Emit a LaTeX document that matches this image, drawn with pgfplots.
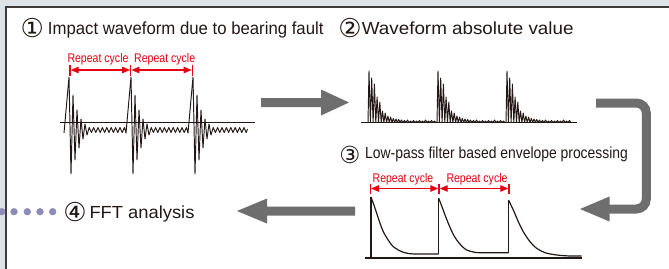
\documentclass[border=0pt]{standalone}
\usepackage{pgfplots}
\pgfplotsset{compat=1.18}
\usetikzlibrary{arrows.meta}
\usepackage{graphicx}
\usepackage{fontspec}
\setmainfont{Liberation Sans}
\newfontfamily\circfont{DejaVu Sans}
\definecolor{bg}{HTML}{DEE3E8}
\definecolor{frame}{HTML}{3C3C3C}
\definecolor{ink}{HTML}{231815}
\definecolor{arrowgray}{HTML}{6E6E6E}
\definecolor{cyred}{HTML}{E60012}
\definecolor{dotc}{HTML}{8C8BB6}
\tikzset{
  ttl/.style={anchor=base west, inner sep=0pt, text=ink, font=\fontsize{17.5bp}{21bp}\selectfont},
  ttlsmall/.style={anchor=base west, inner sep=0pt, text=ink, font=\fontsize{16bp}{19bp}\selectfont},
  cdig/.style={anchor=center, inner sep=0pt, text=ink, font=\circfont\fontsize{26bp}{28bp}\selectfont},
  cdigsmall/.style={anchor=center, inner sep=0pt, text=ink, font=\circfont\fontsize{23.5bp}{26bp}\selectfont},
  rep/.style={anchor=base, inner sep=0pt, text=cyred, font=\fontsize{12.5bp}{15bp}\selectfont},
  reparrow/.style={cyred, line width=1.1bp, {Triangle[length=8bp,width=6.5bp]}-{Triangle[length=8bp,width=6.5bp]}},
  reptick/.style={cyred, line width=1.3bp}
}
\begin{document}
\begin{tikzpicture}
\begin{axis}[hide axis, scale only axis, width=669bp, height=269bp,
  xmin=0, xmax=669, ymin=0, ymax=269, y dir=reverse, clip=true]
% background and panel
\fill[bg] (0,0) rectangle (669,269);
\fill[white] (6,7) rectangle (669,269);
\draw[frame, line width=1.3bp] (6,269) -- (6,7) -- (669,7);

% titles
\node[cdig] at (32.2,28.5) {①};
\node[ttl] at (47.7,34.3) {\resizebox{275.6bp}{\height}{Impact waveform due to bearing fault}};
\node[cdig] at (350,28.5) {②};
\node[ttl] at (361.7,34.3) {\resizebox{211.6bp}{\height}{Waveform absolute value}};
\node[cdigsmall] at (350,155) {③};
\node[ttlsmall] at (365,158.3) {\resizebox{262.7bp}{\height}{Low-pass filter based envelope processing}};
\node[cdig] at (75,212.2) {④};
\node[ttl] at (89.3,218.3) {\resizebox{105bp}{\height}{FFT analysis}};

% dots
\addplot[only marks, mark=*, mark size=3.4pt, dotc, mark options={fill=dotc, draw=dotc}]
  coordinates {(1.7,211.7)(14,211.7)(27.3,211.7)(40,211.7)(52.7,211.7)};

% gray arrows
\fill[arrowgray] (261,98) -- (321,98) -- (321,89.5) -- (349,102.5) -- (321,115.5) -- (321,107) -- (261,107) -- cycle;
\draw[arrowgray, line width=9bp, rounded corners=10bp] (596,103) -- (646.3,103) -- (646.3,209) -- (608,209);
\fill[arrowgray] (609.5,196.5) -- (580,209) -- (609.5,221.5) -- cycle;
\fill[arrowgray] (355,206.5) -- (267,206.5) -- (267,198.5) -- (237,211) -- (267,223.5) -- (267,215.5) -- (355,215.5) -- cycle;

% ---------- wave 1: impact waveform ----------
\addplot[ink, line width=1.2bp, mark=none] coordinates {(60,122.5)(255,122.5)};
\addplot[ink, line width=0.95bp, mark=none, line join=round] coordinates {
(64,133)(69,77)(71,174)(73,95)(75,160)(77,110)(79,148)(81,119)(83,139)(85,124)(87,135)
(89.2,127.5)(91.4,132.5)(93.6,127.5)(95.8,132.5)(98,127.5)(100.2,132.5)(102.4,127.5)(104.6,132.5)
(106.8,127.5)(109,132.5)(111.2,127.5)(113.4,132.5)(115.6,127.5)(117.8,132.5)(120,127.5)(122.2,132.5)
(124.4,127.5)(126,133)
(131,77)(133,174)(135,95)(137,160)(139,110)(141,148)(143,119)(145,139)(147,124)(149,135)
(151.2,127.5)(153.4,132.5)(155.6,127.5)(157.8,132.5)(160,127.5)(162.2,132.5)(164.4,127.5)(166.6,132.5)
(168.8,127.5)(171,132.5)(173.2,127.5)(175.4,132.5)(177.6,127.5)(179.8,132.5)(182,127.5)(184.2,132.5)
(186.4,127.5)(188,133)
(193,77)(195,174)(197,95)(199,160)(201,110)(203,148)(205,119)(207,139)(209,124)(211,135)
(213.2,127.5)(215.4,132.5)(217.6,127.5)(219.8,132.5)(222,127.5)(224.2,132.5)(226.4,127.5)(228.6,132.5)
(230.8,127.5)(233,132.5)(235.2,127.5)(237.4,132.5)(239.6,127.5)(241.8,132.5)(244,127.5)(246.2,132.5)
(247.5,129)};

% repeat cycle (wave 1)
\draw[reptick] (70,64.5) -- (70,75.5);
\draw[reptick] (130.7,64.5) -- (130.7,75.5);
\draw[reptick] (192.3,64.5) -- (192.3,75.5);
\draw[reparrow] (70.7,70) -- (130,70);
\draw[reparrow] (131.4,70) -- (191.6,70);
\node[rep] at (98,62.3) {\resizebox{61bp}{\height}{Repeat cycle}};
\node[rep] at (164.7,62.3) {\resizebox{61bp}{\height}{Repeat cycle}};

% ---------- wave 2: absolute value ----------
\addplot[ink, line width=1bp, mark=none] coordinates {(361,122.7)(577.3,122.7)};
\addplot[ink, line width=0.95bp, mark=none, line join=round] coordinates {
(368,122.5)(369,71)(370.4,122.5)(371.7,78)(373.1,122.5)(374.4,84)(375.8,122.5)(377.1,97)(378.5,122.5)
(379.8,102)(381.2,122.5)(382.5,111)(383.9,122.5)(385.2,113)(386.6,122.5)(387.9,116)(389.3,122.5)
(390.6,117)(392,122.5)(393.3,118.5)(394.7,122.5)(396,119)(397.4,122.5)(398.7,119.5)(400.1,122.5)
(401.4,120)(402.8,122.5)(404.5,120.5)(406,122.5)(407.5,120)(409,122.5)(410.5,121)(412,122.5)
(413.5,120.5)(415,122.5)(416.5,121)(418,122.5)(419.5,120.5)(421,122.5)(422.5,121)(424,122.5)
(425.5,120)(427,122.5)(428.5,121)(430,122.5)(431.5,120.5)(433,122.5)(434.5,121)(436,122.5)(437,122.5)
(438,71)(439.4,122.5)(440.7,78)(442.1,122.5)(443.4,84)(444.8,122.5)(446.1,97)(447.5,122.5)
(448.8,102)(450.2,122.5)(451.5,111)(452.9,122.5)(454.2,113)(455.6,122.5)(456.9,116)(458.3,122.5)
(459.6,117)(461,122.5)(462.3,118.5)(463.7,122.5)(465,119)(466.4,122.5)(467.7,119.5)(469.1,122.5)
(470.4,120)(471.8,122.5)(473.5,120.5)(475,122.5)(476.5,120)(478,122.5)(479.5,121)(481,122.5)
(482.5,120.5)(484,122.5)(485.5,121)(487,122.5)(488.5,120.5)(490,122.5)(491.5,121)(493,122.5)
(494.5,120)(496,122.5)(497.5,121)(499,122.5)(500.5,120.5)(502,122.5)(503.5,121)(505,122.5)(506,122.5)
(507,71)(508.4,122.5)(509.7,78)(511.1,122.5)(512.4,84)(513.8,122.5)(515.1,97)(516.5,122.5)
(517.8,102)(519.2,122.5)(520.5,111)(521.9,122.5)(523.2,113)(524.6,122.5)(525.9,116)(527.3,122.5)
(528.6,117)(530,122.5)(531.3,118.5)(532.7,122.5)(534,119)(535.4,122.5)(536.7,119.5)(538.1,122.5)
(539.4,120)(540.8,122.5)(542.5,120.5)(544,122.5)(545.5,120)(547,122.5)(548.5,121)(550,122.5)
(551.5,120.5)(553,122.5)(554.5,121)(556,122.5)(557.5,120.5)(559,122.5)(560.5,121)(562,122.5)
(563.5,120)(565,122.5)(566.5,121)(568,122.5)(569.5,120.5)(571,122.5)};

% ---------- wave 3: envelope ----------
\addplot[ink, line width=1.2bp, mark=none] coordinates {(365,258)(582,258)};
\addplot[ink, line width=1.2bp, mark=none] coordinates {(371,258)(371,197)};
\addplot[ink, line width=1.2bp, mark=none] coordinates {(438.7,254)(438.7,198.3)};
\addplot[ink, line width=1.2bp, mark=none] coordinates {(508.5,252.7)(508.5,200)};
\addplot[ink, line width=1.2bp, mark=none, smooth, tension=0.5] coordinates {
(371,197)(373.3,203.3)(376.7,213.3)(380,223.3)(383.3,231.7)(386.7,237.7)(390,242.7)(393.3,246.7)
(398.3,250)(403.3,252.3)(410,253.7)(418.3,254)(438.7,254)};
\addplot[ink, line width=1.2bp, mark=none, smooth, tension=0.5] coordinates {
(438.7,198.3)(441.7,206)(445,215)(448.3,223.3)(452.7,233.3)(456.7,240)(461.7,246)(466.7,250)
(473.3,252)(480,252.7)(508.5,252.7)};
\addplot[ink, line width=1.2bp, mark=none, smooth, tension=0.5] coordinates {
(508.5,200)(513.3,210)(518.3,221.7)(523.3,231.7)(530,241.7)(536.7,248.3)(545,252.7)(556.7,255)
(570,256)(581.7,256)};

% repeat cycle (wave 3)
\draw[reptick] (370.3,183.5) -- (370.3,194);
\draw[reptick] (439,183.5) -- (439,194);
\draw[reptick] (509,183.5) -- (509,194);
\draw[reparrow] (371,188.5) -- (438.3,188.5);
\draw[reparrow] (439.7,188.5) -- (508.3,188.5);
\node[rep] at (403,182.3) {\resizebox{60.6bp}{\height}{Repeat cycle}};
\node[rep] at (477,182.3) {\resizebox{61bp}{\height}{Repeat cycle}};
\end{axis}
\pgfresetboundingbox
\path[use as bounding box] (current axis.south west) rectangle (current axis.north east);
\end{tikzpicture}
\end{document}
